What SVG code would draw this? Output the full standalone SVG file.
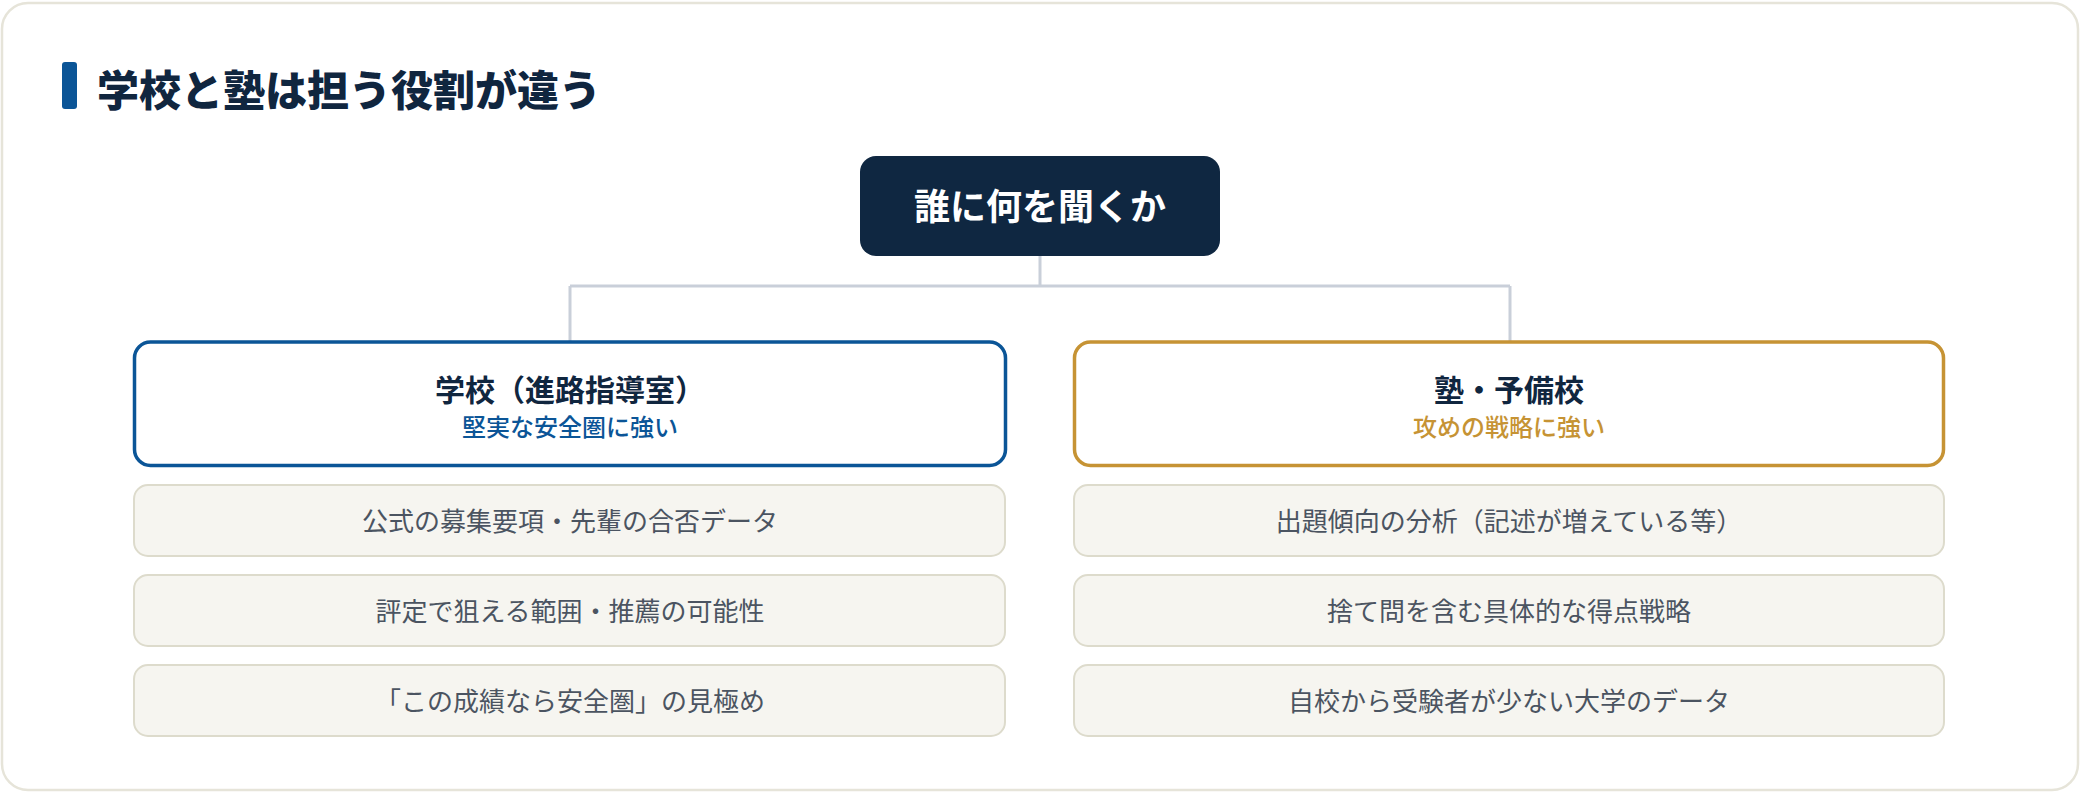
<svg xmlns="http://www.w3.org/2000/svg" width="2080" height="792" viewBox="0 0 2080 792">
<style>
text{font-family:"Noto Sans CJK JP","Noto Sans",sans-serif;}
.title{font-size:42px;font-weight:900;fill:#10263f;}
.root-t{font-size:36px;font-weight:700;fill:#ffffff;}
.head{fill:#ffffff;stroke-width:3.5;}
.head-t{font-size:30px;font-weight:700;fill:#10263f;}
.sub{font-size:24px;font-weight:500;}
.item{fill:#f6f5f0;stroke:#dddbcc;stroke-width:2;}
.item-t{font-size:26px;font-weight:400;fill:#4b5461;}
.conn{fill:none;stroke:#c9cfd9;stroke-width:3;}
</style>
<rect x="2" y="3" width="2076" height="787" rx="26" fill="#ffffff" stroke="#e6e4d9" stroke-width="2.5"/>
<g id="heading">
<rect x="62" y="62" width="15" height="47" rx="3" fill="#0b5597"/>
<text class="title" x="97" y="106">学校と塾は担う役割が違う</text>
</g>
<g id="connectors">
<path class="conn" d="M1040 256 V286 M570 286 H1510 M570 286 V341 M1510 286 V341"/>
</g>
<g id="root">
<rect x="860" y="156" width="360" height="100" rx="16" fill="#0f2741"/>
<text class="root-t" x="1040" y="220" text-anchor="middle">誰に何を聞くか</text>
</g>
<g id="school">
<rect class="head" x="134.5" y="342" width="871" height="123.5" rx="16" stroke="#0b5597"/>
<text class="head-t" x="570" y="401" text-anchor="middle">学校（進路指導室）</text>
<text class="sub" x="570" y="436" text-anchor="middle" fill="#0b5597">堅実な安全圏に強い</text>
</g>
<g id="juku">
<rect class="head" x="1074.5" y="342" width="869" height="123.5" rx="16" stroke="#c69334"/>
<text class="head-t" x="1509" y="401" text-anchor="middle">塾・予備校</text>
<text class="sub" x="1509" y="436" text-anchor="middle" fill="#c69334">攻めの戦略に強い</text>
</g>
<g id="school-1">
<rect class="item" x="134" y="485" width="871" height="71" rx="14"/>
<text class="item-t" x="570" y="531" text-anchor="middle">公式の募集要項・先輩の合否データ</text>
</g>
<g id="school-2">
<rect class="item" x="134" y="575" width="871" height="71" rx="14"/>
<text class="item-t" x="570" y="621" text-anchor="middle">評定で狙える範囲・推薦の可能性</text>
</g>
<g id="school-3">
<rect class="item" x="134" y="665" width="871" height="71" rx="14"/>
<text class="item-t" x="570" y="711" text-anchor="middle">「この成績なら安全圏」の見極め</text>
</g>
<g id="juku-1">
<rect class="item" x="1074" y="485" width="870" height="71" rx="14"/>
<text class="item-t" x="1509" y="531" text-anchor="middle">出題傾向の分析（記述が増えている等）</text>
</g>
<g id="juku-2">
<rect class="item" x="1074" y="575" width="870" height="71" rx="14"/>
<text class="item-t" x="1509" y="621" text-anchor="middle">捨て問を含む具体的な得点戦略</text>
</g>
<g id="juku-3">
<rect class="item" x="1074" y="665" width="870" height="71" rx="14"/>
<text class="item-t" x="1509" y="711" text-anchor="middle">自校から受験者が少ない大学のデータ</text>
</g>
</svg>
